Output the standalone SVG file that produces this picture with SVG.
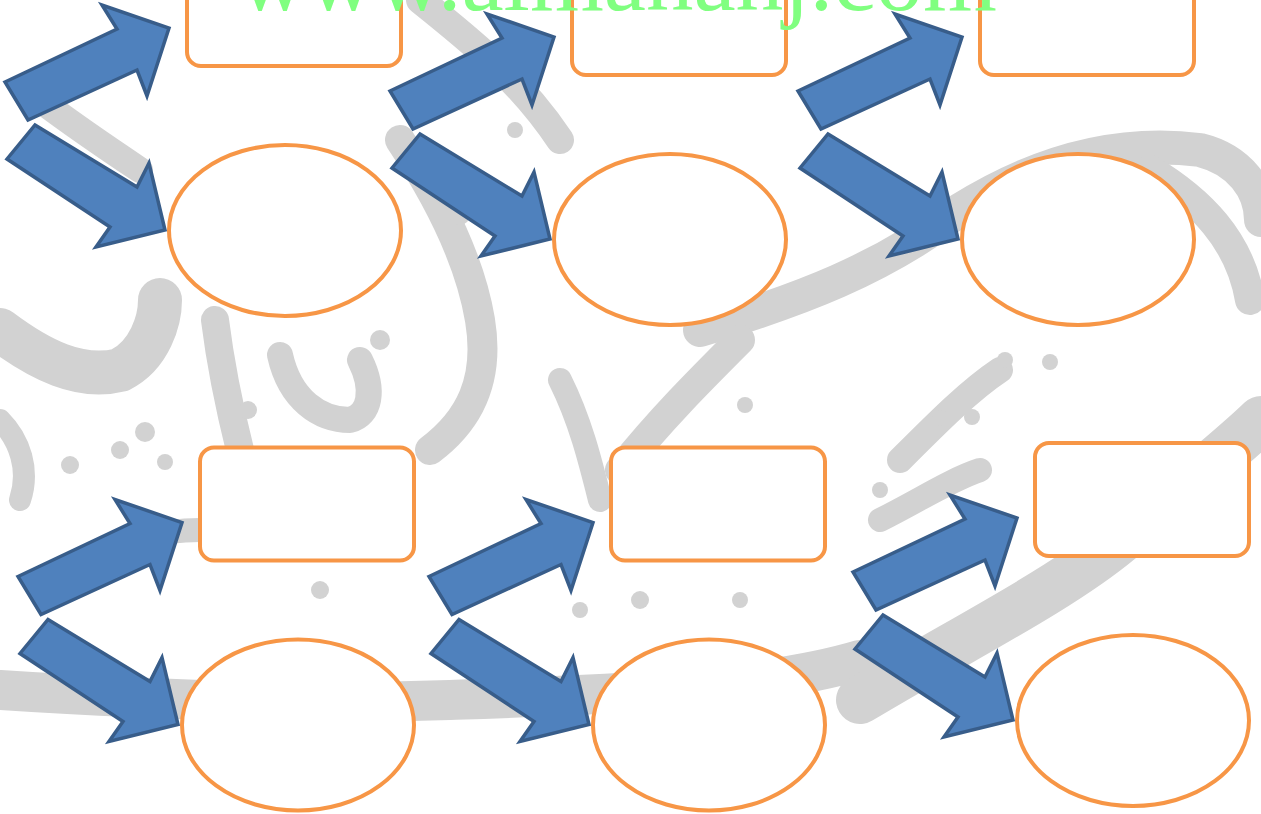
<svg xmlns="http://www.w3.org/2000/svg" width="1261" height="814" viewBox="0 0 1261 814">
<style>
.bg{fill:none;stroke:#d2d2d2;stroke-linecap:round;stroke-linejoin:round}
.dot{fill:#d2d2d2}
.box{fill:#ffffff;stroke:#F79646;stroke-width:4}
.arr{fill:#4F81BD;stroke:#385D8A;stroke-width:3.5;stroke-linejoin:miter}
.wm{font-family:"Liberation Serif","Times New Roman",serif;font-size:95px;fill:#80FF80}
</style>
<defs>
<polygon id="up" class="arr" points="5,82 117,29 102,5 169,28 147,96 137,70 28,120"/>
<polygon id="down" class="arr" points="35,125 137,187 149,163 165,230 96,247 110,227 7,159"/>
</defs>
<rect width="1261" height="814" fill="#ffffff"/>
<g id="background">
<path class="bg" stroke-width="40" d="M0,690 C150,700 300,705 450,700 C600,695 760,690 860,660"/>
<path class="bg" stroke-width="48" d="M860,700 C960,640 1060,590 1120,540 C1180,490 1230,450 1261,420"/>
<path class="bg" stroke-width="34" d="M700,330 C800,300 880,270 960,210 C1040,160 1120,140 1200,150 C1240,160 1261,190 1261,220"/>
<path class="bg" stroke-width="30" d="M1150,170 C1200,200 1240,240 1250,300"/>
<path class="bg" stroke-width="44" d="M0,330 C40,360 80,380 120,370 C150,355 160,320 160,300"/>
<path class="bg" stroke-width="28" d="M215,320 C220,360 230,410 240,450"/>
<path class="bg" stroke-width="26" d="M280,355 C290,400 320,420 350,420 C370,415 375,390 360,360"/>
<path class="bg" stroke-width="30" d="M400,140 C440,200 470,260 480,320 C490,380 470,420 430,450"/>
<path class="bg" stroke-width="28" d="M420,0 C470,40 520,80 560,140"/>
<path class="bg" stroke-width="26" d="M40,100 C80,130 110,150 140,170"/>
<path class="bg" stroke-width="30" d="M620,470 C660,420 700,380 740,340"/>
<path class="bg" stroke-width="26" d="M900,460 C940,420 970,390 1000,370"/>
<path class="bg" stroke-width="24" d="M560,380 C580,420 590,460 600,500"/>
<path class="bg" stroke-width="24" d="M880,520 C920,500 950,480 980,470"/>
<path class="bg" stroke-width="22" d="M0,420 C20,440 30,470 20,500"/>
<path class="bg" stroke-width="24" d="M80,560 C120,540 160,530 200,530"/>
<circle class="dot" cx="145" cy="432" r="10"/>
<circle class="dot" cx="120" cy="450" r="9"/>
<circle class="dot" cx="70" cy="465" r="9"/>
<circle class="dot" cx="165" cy="462" r="8"/>
<circle class="dot" cx="248" cy="410" r="9"/>
<circle class="dot" cx="380" cy="340" r="10"/>
<circle class="dot" cx="745" cy="405" r="8"/>
<circle class="dot" cx="940" cy="418" r="8"/>
<circle class="dot" cx="1005" cy="360" r="8"/>
<circle class="dot" cx="1050" cy="362" r="8"/>
<circle class="dot" cx="972" cy="417" r="8"/>
<circle class="dot" cx="640" cy="600" r="9"/>
<circle class="dot" cx="580" cy="610" r="8"/>
<circle class="dot" cx="740" cy="600" r="8"/>
<circle class="dot" cx="320" cy="590" r="9"/>
<circle class="dot" cx="515" cy="130" r="8"/>
<circle class="dot" cx="460" cy="215" r="10"/>
<circle class="dot" cx="880" cy="490" r="8"/>
</g>
<g id="connectors">
<use href="#up"/>
<use href="#down"/>
<use href="#up" x="385" y="9"/>
<use href="#down" x="385" y="9"/>
<use href="#up" x="793" y="9"/>
<use href="#down" x="793" y="9"/>
<use href="#up" x="13" y="494.5"/>
<use href="#down" x="13" y="494.5"/>
<use href="#up" x="424" y="494.5"/>
<use href="#down" x="424" y="494.5"/>
<use href="#up" x="848" y="490"/>
<use href="#down" x="848" y="490"/>
</g>
<g id="rect1"><rect class="box" x="187" y="-47" width="214" height="113" rx="14"/></g>
<g id="rect2"><rect class="box" x="572" y="-38" width="214" height="113" rx="14"/></g>
<g id="rect3"><rect class="box" x="980" y="-38" width="214" height="113" rx="14"/></g>
<g id="rect4"><rect class="box" x="200" y="447.5" width="214" height="113" rx="14"/></g>
<g id="rect5"><rect class="box" x="611" y="447.5" width="214" height="113" rx="14"/></g>
<g id="rect6"><rect class="box" x="1035" y="443" width="214" height="113" rx="14"/></g>
<g id="ellipse1"><ellipse class="box" cx="285" cy="230.5" rx="116" ry="85.5"/></g>
<g id="ellipse2"><ellipse class="box" cx="670" cy="239.5" rx="116" ry="85.5"/></g>
<g id="ellipse3"><ellipse class="box" cx="1078" cy="239.5" rx="116" ry="85.5"/></g>
<g id="ellipse4"><ellipse class="box" cx="298" cy="725" rx="116" ry="85.5"/></g>
<g id="ellipse5"><ellipse class="box" cx="709" cy="725" rx="116" ry="85.5"/></g>
<g id="ellipse6"><ellipse class="box" cx="1133" cy="720.5" rx="116" ry="85.5"/></g>
<text class="wm" x="238" y="10">www.almanahj.com</text>
</svg>
